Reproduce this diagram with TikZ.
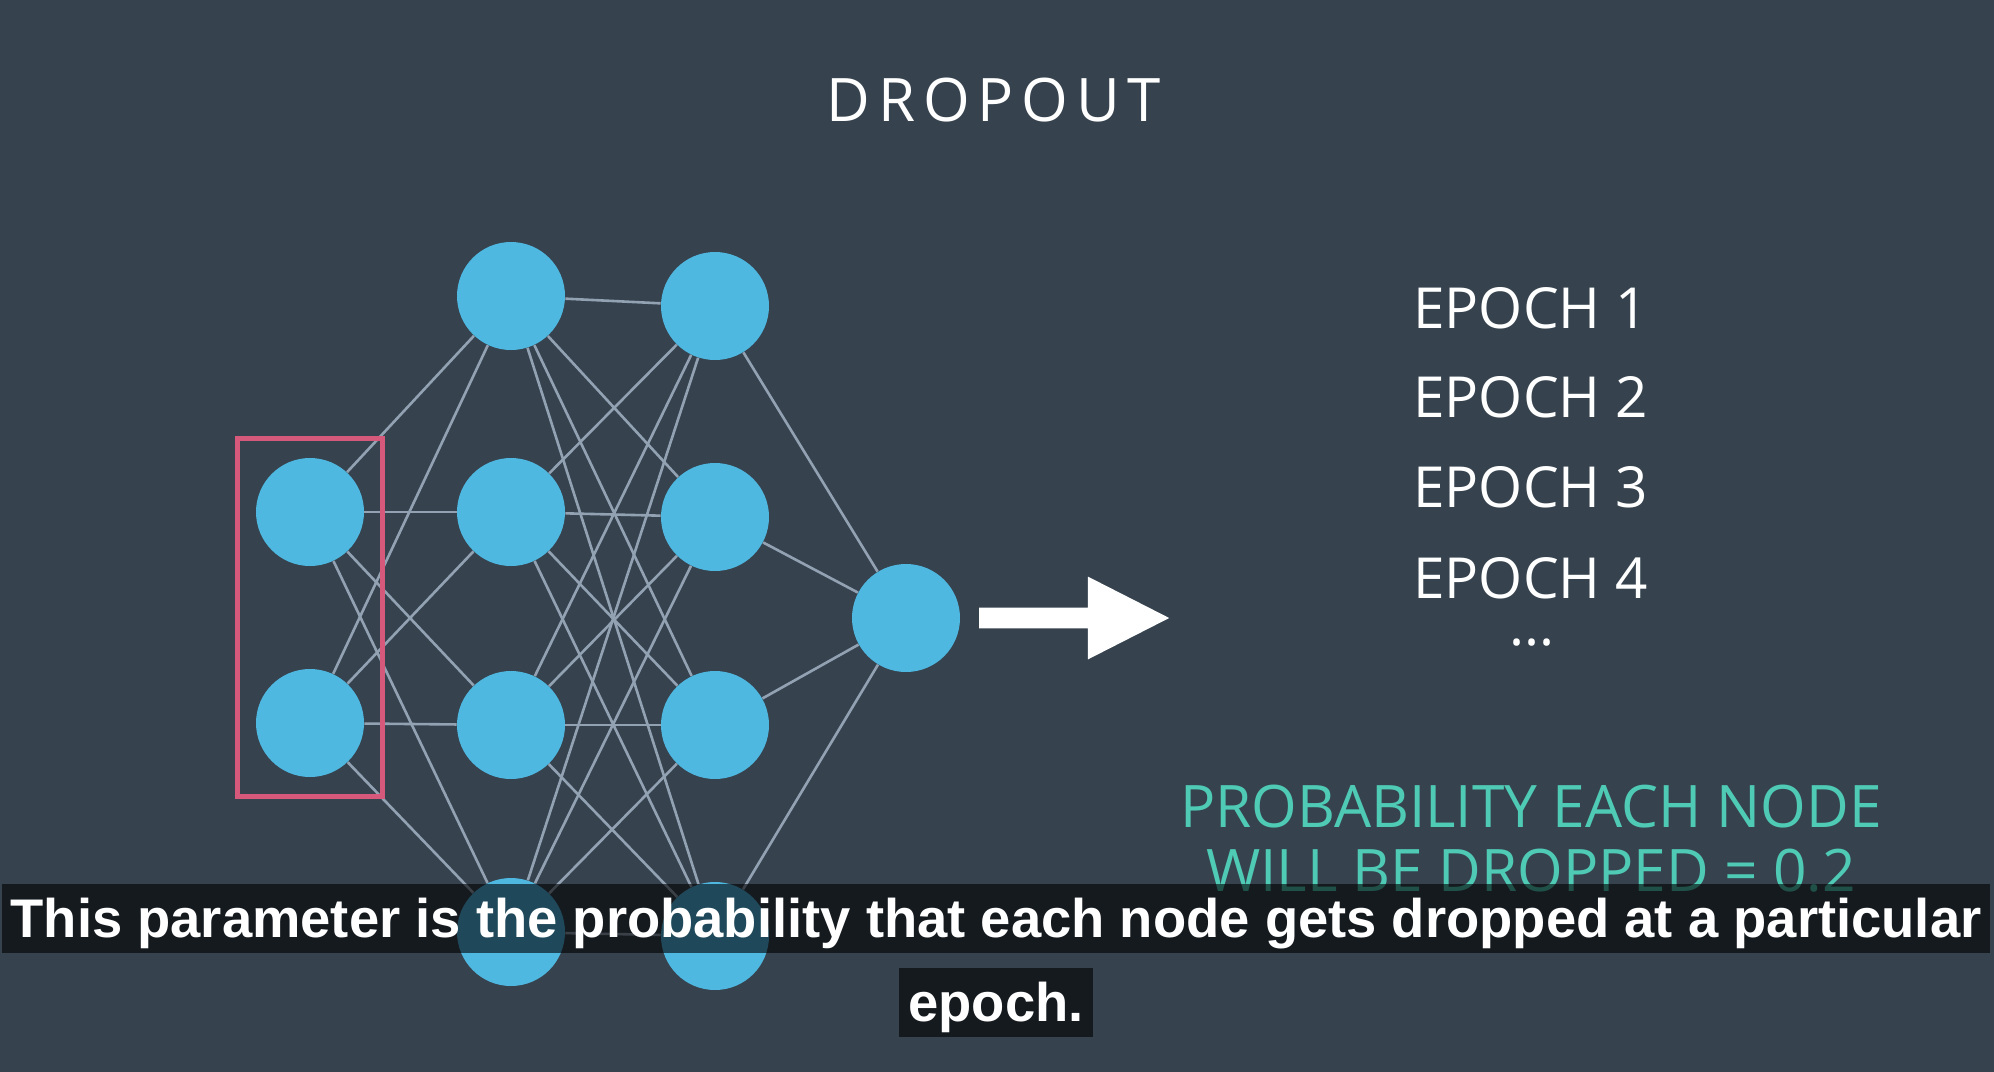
\documentclass[tikz,border=0pt]{standalone}
\usepackage{fontspec}
\setmainfont{Open Sans}
\newfontfamily\subfont{Liberation Sans}
\usetikzlibrary{positioning,fit,shapes.arrows}
\definecolor{slate}{HTML}{36434F}
\definecolor{unitblue}{HTML}{4FB8E1}
\definecolor{wiregray}{HTML}{93A2B3}
\definecolor{pinkred}{HTML}{D6587B}
\definecolor{mint}{HTML}{4FCBB5}

\begin{document}
\begin{tikzpicture}[x=0.5pt,y=-0.5pt,
    unit/.style={circle,fill=unitblue,minimum size=54pt,inner sep=0pt},
    wire/.style={draw=wiregray,line width=1.3pt},
    keepbox/.style={draw=pinkred,line width=2.2pt,inner xsep=9pt,inner ysep=9.5pt},
    bigarrow/.style={single arrow,fill=white,inner xsep=0pt,inner ysep=5pt,
      minimum height=95pt,single arrow head extend=15.5pt,
      single arrow tip angle=54,single arrow head indent=0pt},
    title/.style={text=white,anchor=base,inner sep=0pt,
      font=\fontsize{30}{36}\selectfont\addfontfeature{LetterSpace=13}},
    epoch/.style={text=white,inner sep=0pt,font=\fontsize{28.3}{34}\selectfont},
    prob/.style={text=mint,anchor=base,inner sep=0pt,font=\fontsize{29.3}{33}\selectfont},
    subbox/.style={fill=black,fill opacity=0.6,text opacity=1,text=white,
      anchor=base,inner xsep=4.5pt,inner ysep=0pt,text height=26.5pt,text depth=8pt,
      font=\subfont\bfseries\fontsize{27.2}{32}\selectfont}
  ]
  \path[use as bounding box,fill=slate] (0,0) rectangle (1994,1072);

  \node[title] (head) at (994,121) {DROPOUT};

  % network
  \node[unit] (in1) at (310,512) {};
  \node[unit] (in2) at (310,723) {};
  \foreach \k/\yy in {1/296,2/512,3/725,4/932}
    \node[unit] (ha\k) at (511,\yy) {};
  \foreach \k/\yy in {1/306,2/517,3/725,4/936}
    \node[unit] (hb\k) at (715,\yy) {};
  \node[unit] (out) at (906,618) {};

  \foreach \i in {1,2}
    \foreach \j in {1,...,4}
      \draw[wire] (in\i) -- (ha\j);
  \foreach \i in {1,...,4}
    \foreach \j in {1,...,4}
      \draw[wire] (ha\i) -- (hb\j);
  \foreach \i in {1,...,4}
    \draw[wire] (hb\i) -- (out);

  \node[keepbox,fit=(in1)(in2)] (inbox) {};

  \node[bigarrow] (go) at (1064,618) {};

  % epochs
  \foreach \k/\yy in {1/328,2/417,3/507,4/598}
    \node[epoch,anchor=base west] (ep\k) at (1413,\yy) {EPOCH \k};
  \node[epoch] (more) at (1532,643) {...};

  \node[prob] (prob1) at (1531,827) {PROBABILITY EACH NODE};
  \node[prob] (prob2) at (1531,891) {WILL BE DROPPED = 0.2};

  % caption
  \node[subbox] (cap1) at (996,937)
    {This parameter is the probability that each node gets dropped at a particular};
  \node[subbox] (cap2) at (996,1021) {epoch.};
\end{tikzpicture}
\end{document}
